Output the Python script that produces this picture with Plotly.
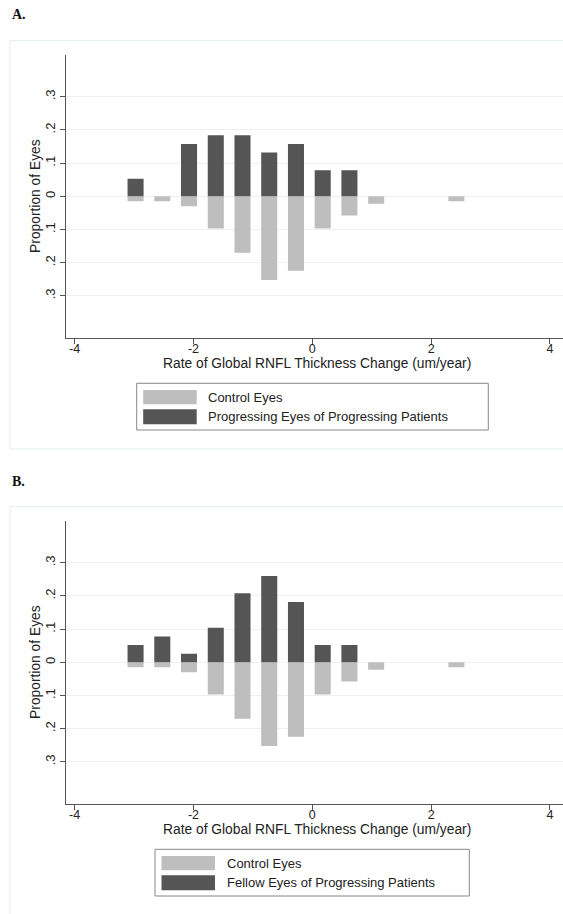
import plotly.graph_objects as go

# ---- data ----
bin_centers = [-2.975, -2.525, -2.075, -1.625, -1.175, -0.725, -0.275,
               0.175, 0.625, 1.075, 1.525, 1.975, 2.425]
control_eyes = [0.015, 0.015, 0.030, 0.097, 0.170, 0.252, 0.224,
                0.097, 0.058, 0.022, 0.0, 0.0, 0.015]
progressing_eyes = [0.053, 0.0, 0.158, 0.184, 0.184, 0.132, 0.158,
                    0.079, 0.079, 0.0, 0.0, 0.0, 0.0]
fellow_eyes = [0.052, 0.078, 0.026, 0.104, 0.208, 0.260, 0.182,
               0.052, 0.052, 0.0, 0.0, 0.0, 0.0]
y_tickvals = [0.3, 0.2, 0.1, 0.0, -0.1, -0.2, -0.3]
y_ticktext = [".3", ".2", ".1", "0", ".1", ".2", ".3"]
x_tickvals = [-4, -2, 0, 2, 4]
x_ticktext = ["-4", "-2", "0", "2", "4"]
panel_labels = ["A.", "B."]
legend_control = "Control Eyes"
legend_dark = ["Progressing Eyes of Progressing Patients",
               "Fellow Eyes of Progressing Patients"]
x_title = "Rate of Global RNFL Thickness Change (um/year)"
y_title = "Proportion of Eyes"

W, H = 563, 914
DARK = "#555555"
LIGHT = "#bebebe"
AXIS = "#555555"
GRID = "#eef1f2"
FONT = "Liberation Sans, Arial, sans-serif"


def py(p):
    return 1 - p / H


def px(p):
    return p / W


fig = go.Figure()
dark_sets = [progressing_eyes, fellow_eyes]
for i in range(2):
    sfx = "" if i == 0 else "2"
    fig.add_trace(go.Bar(x=bin_centers, y=[-v for v in control_eyes], width=0.27,
                         marker=dict(color=LIGHT, line=dict(width=0)),
                         name=legend_control, showlegend=False,
                         xaxis="x" + sfx, yaxis="y" + sfx))
    fig.add_trace(go.Bar(x=bin_centers, y=dark_sets[i], width=0.27,
                         marker=dict(color=DARK, line=dict(width=0)),
                         name=legend_dark[i], showlegend=False,
                         xaxis="x" + sfx, yaxis="y" + sfx))

offset = 466
layout = dict(
    width=W, height=H, margin=dict(l=0, r=0, t=0, b=0),
    paper_bgcolor="white", plot_bgcolor="white",
    barmode="relative", showlegend=False,
    font=dict(family=FONT, size=13, color="#222222"),
)
xaxis_common = dict(range=[-4.146, 4.22], domain=[px(66), 1.0],
                    tickvals=x_tickvals, ticktext=x_ticktext,
                    showline=True, linecolor=AXIS, linewidth=1,
                    ticks="outside", ticklen=5, tickcolor=AXIS, tickwidth=1,
                    ticklabelstandoff=-6,
                    showgrid=False, zeroline=False, automargin=False,
                    tickfont=dict(size=12.5, color="#222222"))
yaxis_common = dict(range=[-0.426, 0.426],
                    tickvals=y_tickvals, ticktext=y_ticktext, tickangle=-90,
                    showline=True, linecolor=AXIS, linewidth=1,
                    ticks="outside", ticklen=5, tickcolor=AXIS, tickwidth=1,
                    showgrid=True, gridcolor=GRID, gridwidth=1, zeroline=False,
                    automargin=False,
                    tickfont=dict(size=13, color="#222222"))
layout["xaxis"] = dict(xaxis_common, anchor="y")
layout["xaxis2"] = dict(xaxis_common, anchor="y2")
layout["yaxis"] = dict(yaxis_common, anchor="x", domain=[py(337.7), py(55)])
layout["yaxis2"] = dict(yaxis_common, anchor="x2",
                        domain=[py(337.7 + offset), py(55 + offset)])
fig.update_layout(**layout)

shapes = []
annotations = []
legend_boxes = [(136.7, 488.3), (155, 469.3)]
for i in range(2):
    o = offset * i
    # outer panel frame
    shapes.append(dict(type="rect", xref="paper", yref="paper",
                       x0=px(10), x1=1.05, y0=py(449 + o), y1=py(40.7 + o),
                       line=dict(color="#e4eaec", width=1), fillcolor="rgba(0,0,0,0)",
                       layer="below"))
    annotations.append(dict(text="<b>%s</b>" % panel_labels[i], xref="paper", yref="paper",
                            x=px(10), y=py(15 + o), xanchor="left", yanchor="middle",
                            showarrow=False,
                            font=dict(family="Liberation Serif, Times New Roman, serif",
                                      size=14, color="#111111")))
    annotations.append(dict(text=x_title, xref="paper", yref="paper",
                            x=px(317), y=py(363 + o), xanchor="center", yanchor="middle",
                            showarrow=False, font=dict(size=13.8, color="#222222")))
    annotations.append(dict(text=y_title, xref="paper", yref="paper", textangle=-90,
                            x=px(35.5), y=py(196.4 + o), xanchor="center", yanchor="middle",
                            showarrow=False, font=dict(size=13.8, color="#222222")))
    # legend
    lx0, lx1 = legend_boxes[i]
    shapes.append(dict(type="rect", xref="paper", yref="paper",
                       x0=px(lx0), x1=px(lx1), y0=py(430 + o), y1=py(383.3 + o),
                       line=dict(color="#888888", width=1), fillcolor="white"))
    sw0 = lx0 + 6.5
    rows = [(390, 404.3, LIGHT, legend_control), (409.3, 424.3, DARK, legend_dark[i])]
    for (t, b, c, label) in rows:
        shapes.append(dict(type="rect", xref="paper", yref="paper",
                           x0=px(sw0), x1=px(sw0 + 53.5), y0=py(b + o), y1=py(t + o),
                           line=dict(width=0), fillcolor=c))
        annotations.append(dict(text=label, xref="paper", yref="paper",
                                x=px(sw0 + 63), y=py((t + b) / 2 + o),
                                xanchor="left", yanchor="middle", showarrow=False,
                                font=dict(size=13, color="#222222")))
fig.update_layout(shapes=shapes, annotations=annotations)

fig.write_html("out.html", config={"displayModeBar": False},
               post_script="document.body.style.margin='0';document.body.style.padding='0';")
